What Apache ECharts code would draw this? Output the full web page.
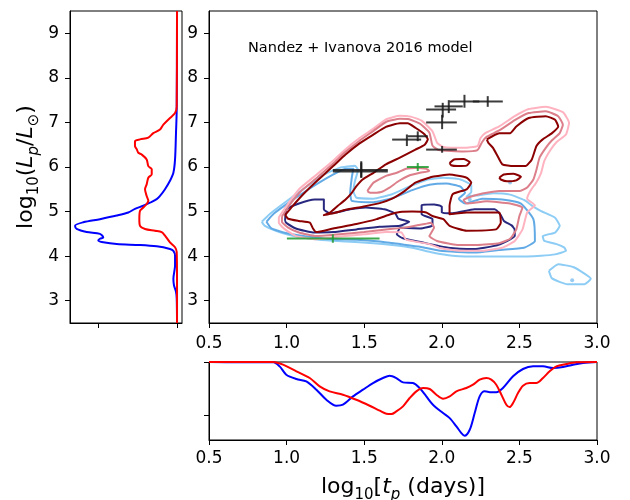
<!DOCTYPE html>
<html><head><meta charset="utf-8">
<script src="https://cdn.jsdelivr.net/npm/echarts@6/dist/echarts.min.js"></script>
<style>html,body{margin:0;padding:0;background:#fff}#c{width:630px;height:500px}</style>
</head><body><div id="c"></div>
<script>
// ---- tick values ----
const lumTicks = [3, 4, 5, 6, 7, 8, 9];
const timeTicks = [0.5, 1.0, 1.5, 2.0, 2.5, 3.0];

// ---- marginal density of log L (pairs: [density, logL]) ----
const lumDensityBlue = [[0,9.5],[0.004,7.29],[0.013,6.76],[0.025,6.17],[0.046,5.87],[0.089,5.69],[0.152,5.50],[0.215,5.35],[0.257,5.28],[0.342,5.20],[0.426,5.13],[0.532,5.06],[0.616,4.98],[0.763,4.91],[0.975,4.83],[1.186,4.76],[1.29,4.68],[1.27,4.61],[1.143,4.54],[0.975,4.50],[0.933,4.42],[0.975,4.39],[0.996,4.35],[0.933,4.31],[0.763,4.27],[0.468,4.25],[0.257,4.22],[0.089,4.16],[0.046,4.12],[0.025,4.01],[0.025,3.79],[0.046,3.49],[0.038,3.34],[0.013,3.20],[0.004,3.05],[0,2.5]];
const lumDensityRed = [[0,9.5],[0.004,7.35],[0.025,7.21],[0.089,7.10],[0.173,6.95],[0.215,6.84],[0.300,6.76],[0.363,6.66],[0.468,6.62],[0.532,6.58],[0.532,6.47],[0.51,6.40],[0.49,6.32],[0.447,6.28],[0.384,6.17],[0.363,6.02],[0.32,5.95],[0.32,5.84],[0.363,5.76],[0.384,5.61],[0.405,5.50],[0.384,5.35],[0.363,5.24],[0.384,5.17],[0.426,5.09],[0.468,5.02],[0.477,4.83],[0.468,4.68],[0.405,4.61],[0.278,4.57],[0.194,4.54],[0.152,4.46],[0.089,4.31],[0.025,4.20],[0.004,4.09],[0,3.5],[0,2.5]];

// ---- marginal density of log t (pairs: [logt, density]) ----
const timeDensityBlue = [[0.5,0],[0.698,0.006],[0.912,0],[0.955,0.082],[0.998,0.239],[1.063,0.321],[1.127,0.365],[1.192,0.522],[1.256,0.711],[1.320,0.824],[1.363,0.805],[1.428,0.648],[1.492,0.522],[1.557,0.396],[1.621,0.302],[1.664,0.258],[1.707,0.302],[1.750,0.384],[1.814,0.396],[1.857,0.491],[1.900,0.648],[1.943,0.805],[2.008,0.962],[2.051,1.057],[2.094,1.214],[2.126,1.340],[2.147,1.390],[2.180,1.277],[2.212,0.962],[2.244,0.648],[2.276,0.553],[2.319,0.572],[2.351,0.572],[2.394,0.491],[2.459,0.270],[2.523,0.132],[2.588,0.082],[2.652,0.082],[2.717,0.113],[2.781,0.094],[2.845,0.05],[2.910,0.019],[3.0,0]];
const timeDensityRed = [[0.5,0],[0.912,0],[0.977,0.05],[1.063,0.176],[1.149,0.302],[1.213,0.459],[1.277,0.553],[1.363,0.616],[1.449,0.711],[1.535,0.824],[1.600,0.918],[1.643,0.975],[1.675,0.981],[1.707,0.931],[1.750,0.836],[1.793,0.679],[1.836,0.553],[1.879,0.491],[1.922,0.509],[1.965,0.616],[2.008,0.692],[2.051,0.648],[2.094,0.553],[2.158,0.491],[2.201,0.428],[2.244,0.333],[2.287,0.302],[2.319,0.333],[2.351,0.428],[2.384,0.616],[2.416,0.805],[2.437,0.849],[2.459,0.774],[2.491,0.585],[2.523,0.447],[2.566,0.396],[2.609,0.396],[2.652,0.302],[2.695,0.176],[2.738,0.082],[2.802,0.038],[2.867,0.006],[3.0,0]];

// ---- observed-sample contours (blue family) ----
const blueOuter = [[0.84,4.77],[0.89,4.94],[0.98,5.18],[1.11,5.51],[1.23,5.81],[1.34,5.98],[1.44,6.03],[1.46,5.93],[1.44,5.68],[1.43,5.46],[1.45,5.31],[1.56,5.29],[1.68,5.39],[1.79,5.56],[1.90,5.71],[2.01,5.76],[2.12,5.72],[2.19,5.59],[2.19,5.44],[2.16,5.34],[2.22,5.36],[2.33,5.41],[2.44,5.38],[2.53,5.26],[2.59,5.11],[2.64,5.01],[2.73,4.86],[2.76,4.68],[2.73,4.53],[2.65,4.45],[2.66,4.34],[2.74,4.27],[2.79,4.19],[2.80,4.12],[2.73,4.04],[2.64,4.01],[2.48,3.99],[2.26,3.99],[2.07,4.01],[1.94,4.08],[1.81,4.19],[1.68,4.25],[1.56,4.29],[1.38,4.33],[1.21,4.37],[1.06,4.44],[0.93,4.57],[0.86,4.68]];
const blueIsland = [[2.69,3.67],[2.75,3.82],[2.85,3.75],[2.96,3.49],[2.92,3.37],[2.81,3.37],[2.71,3.50]];
const blueSpecks = [[2.84,3.46],[2.18,5.27],[2.44,5.65]];
const blueMid = [[0.87,4.77],[0.92,4.96],[1.03,5.24],[1.16,5.54],[1.29,5.81],[1.38,5.96],[1.43,5.96],[1.42,5.76],[1.41,5.42],[1.42,5.24],[1.56,5.21],[1.68,5.30],[1.81,5.48],[1.92,5.60],[2.03,5.63],[2.12,5.56],[2.15,5.42],[2.11,5.29],[2.15,5.18],[2.26,5.29],[2.39,5.27],[2.51,5.18],[2.59,4.83],[2.60,4.34],[2.53,4.19],[2.37,4.14],[2.21,4.08],[1.99,4.12],[1.86,4.21],[1.73,4.27],[1.60,4.33],[1.45,4.37],[1.30,4.38],[1.13,4.44],[0.98,4.53],[0.90,4.63]];
const blueInnerA = [[0.99,4.79],[1.00,5.05],[1.08,5.18],[1.18,5.27],[1.24,5.27],[1.24,5.05],[1.28,4.96],[1.41,5.05],[1.51,5.09],[1.63,5.05],[1.70,4.96],[1.72,4.84],[1.79,4.77],[1.73,4.68],[1.60,4.66],[1.45,4.60],[1.30,4.54],[1.17,4.53],[1.06,4.62],[1.00,4.74]];
const blueInnerB = [[1.73,4.64],[1.71,4.49],[1.75,4.40],[1.87,4.31],[2.04,4.19],[2.21,4.16],[2.34,4.23],[2.42,4.34],[2.47,4.45],[2.47,4.59],[2.45,4.69],[2.40,4.79],[2.38,4.92],[2.34,5.05],[2.21,5.05],[2.07,4.96],[2.00,4.98],[2.00,5.11],[1.95,5.16],[1.87,5.15],[1.87,4.94],[1.94,4.83],[1.94,4.69],[1.86,4.62]];

// ---- model contours (red family) ----
const redOuter = [[0.95,4.87],[1.00,5.13],[1.08,5.50],[1.19,5.82],[1.30,6.14],[1.38,6.40],[1.47,6.65],[1.56,6.86],[1.64,7.07],[1.73,7.15],[1.80,7.13],[1.87,7.04],[1.94,6.80],[1.97,6.54],[2.01,6.45],[2.14,6.43],[2.23,6.47],[2.25,6.65],[2.28,6.76],[2.37,6.91],[2.47,7.14],[2.56,7.30],[2.67,7.35],[2.78,7.23],[2.82,6.99],[2.80,6.73],[2.74,6.56],[2.70,6.38],[2.66,6.13],[2.64,5.87],[2.61,5.66],[2.57,5.46],[2.55,5.29],[2.60,5.14],[2.55,4.98],[2.52,4.60],[2.47,4.34],[2.39,4.19],[2.26,4.12],[2.14,4.12],[2.00,4.17],[1.92,4.27],[1.77,4.37],[1.74,4.53],[1.64,4.54],[1.50,4.49],[1.34,4.44],[1.19,4.38],[1.06,4.45],[0.99,4.60],[0.95,4.75]];
const redMid = [[0.97,4.89],[1.02,5.15],[1.09,5.45],[1.19,5.74],[1.30,6.08],[1.38,6.34],[1.47,6.59],[1.56,6.81],[1.64,7.01],[1.73,7.08],[1.79,7.07],[1.86,6.97],[1.92,6.77],[1.94,6.48],[1.98,6.38],[2.14,6.35],[2.23,6.38],[2.26,6.56],[2.29,6.68],[2.37,6.82],[2.47,7.05],[2.56,7.21],[2.67,7.25],[2.75,7.14],[2.78,6.95],[2.76,6.76],[2.71,6.60],[2.67,6.43],[2.63,6.21],[2.61,5.94],[2.59,5.72],[2.55,5.54],[2.50,5.46],[2.37,5.46],[2.29,5.42],[2.20,5.35],[2.14,5.26],[2.16,5.18],[2.29,5.23],[2.44,5.18],[2.52,5.09],[2.50,4.90],[2.48,4.60],[2.44,4.39],[2.37,4.29],[2.23,4.25],[2.10,4.25],[1.97,4.34],[1.92,4.45],[1.95,4.64],[1.93,4.75],[1.89,4.72],[1.76,4.64],[1.64,4.60],[1.50,4.54],[1.34,4.49],[1.19,4.45],[1.08,4.53],[1.01,4.64],[0.97,4.77]];
const redMidHole = [[1.52,5.46],[1.56,5.65],[1.64,5.80],[1.71,5.87],[1.77,5.96],[1.83,5.98],[1.90,5.96],[1.92,5.91],[1.86,5.87],[1.79,5.81],[1.72,5.68],[1.66,5.53],[1.61,5.44],[1.54,5.42]];
const redInner = [[0.99,4.92],[1.03,5.09],[1.11,5.40],[1.19,5.67],[1.30,6.02],[1.38,6.28],[1.47,6.53],[1.56,6.73],[1.64,6.90],[1.73,6.98],[1.78,6.98],[1.83,6.88],[1.89,6.73],[1.91,6.62],[1.89,6.50],[1.83,6.39],[1.73,6.21],[1.64,6.06],[1.56,5.87],[1.49,5.72],[1.45,5.57],[1.42,5.42],[1.38,5.27],[1.33,5.13],[1.28,4.98],[1.24,4.92],[1.30,4.96],[1.38,5.04],[1.49,5.11],[1.60,5.19],[1.68,5.29],[1.76,5.46],[1.83,5.65],[1.94,5.78],[2.05,5.83],[2.16,5.76],[2.19,5.65],[2.16,5.50],[2.07,5.39],[2.05,5.13],[2.05,4.94],[2.16,4.98],[2.37,4.98],[2.38,4.75],[2.35,4.60],[2.16,4.57],[2.05,4.68],[2.01,4.83],[1.94,4.90],[1.90,4.98],[1.81,5.00],[1.73,4.99],[1.67,4.94],[1.58,4.83],[1.45,4.72],[1.30,4.62],[1.19,4.54],[1.17,4.62],[1.15,4.75],[1.08,4.79],[1.01,4.84]];
const redInnerLobe = [[2.29,6.62],[2.37,6.76],[2.44,6.76],[2.48,6.91],[2.56,7.10],[2.67,7.14],[2.73,7.06],[2.75,6.91],[2.71,6.76],[2.65,6.62],[2.61,6.47],[2.58,6.17],[2.54,6.02],[2.46,6.02],[2.39,6.06],[2.36,6.24],[2.33,6.43],[2.30,6.54]];
const redInnerDotA = [[2.05,6.09],[2.08,6.17],[2.14,6.18],[2.18,6.11],[2.16,6.03],[2.10,6.02],[2.06,6.04]];
const redInnerDotB = [[2.37,5.76],[2.40,5.83],[2.46,5.85],[2.51,5.78],[2.48,5.70],[2.42,5.68],[2.38,5.72]];

// ---- events with errors: [logt, logL, logt_lo, logt_hi, logL_lo, logL_hi] ----
const eventsBlack = [[1.481,5.93,1.298,1.652,5.76,6.13],[1.481,5.90,1.298,1.652,5.76,6.10],[1.775,6.615,1.680,1.867,6.47,6.73],[1.845,6.69,1.78,1.91,6.58,6.80],[2.002,7.00,1.899,2.097,6.85,7.17],[2.006,7.29,1.899,2.092,7.11,7.44],[2.045,7.36,1.953,2.135,7.21,7.50],[2.146,7.47,2.049,2.242,7.33,7.62],[2.296,7.47,2.200,2.393,7.35,7.59],[2.002,6.39,1.899,2.097,6.32,6.47]];
const eventsGreen = [[1.298,4.395,1.002,1.599,4.30,4.49],[1.845,6.00,1.775,1.916,5.91,6.09]];

const FONT = 'DejaVu Sans';
const closed = arr => arr.concat([arr[0]]);

function contour(data, color, z) {
  return {
    type: 'line', xAxisIndex: 1, yAxisIndex: 1, data: closed(data),
    symbol: 'none', smooth: 0.15, silent: true, z: z,
    lineStyle: { color: color, width: 2, join: 'round' }
  };
}

function errorBars(data, color, z) {
  return {
    type: 'custom', xAxisIndex: 1, yAxisIndex: 1, data: data, z: z, silent: true,
    encode: { x: 0, y: 1 },
    renderItem: function (params, api) {
      const y = api.value(1), x = api.value(0);
      const a = api.coord([api.value(2), y]), b = api.coord([api.value(3), y]);
      const c = api.coord([x, api.value(4)]), d = api.coord([x, api.value(5)]);
      const st = { stroke: color, lineWidth: 2, opacity: 0.85 };
      return { type: 'group', children: [
        { type: 'line', shape: { x1: a[0], y1: a[1], x2: b[0], y2: b[1] }, style: st },
        { type: 'line', shape: { x1: c[0], y1: c[1], x2: d[0], y2: d[1] }, style: st }
      ] };
    }
  };
}

const axisLineStyle = { show: true, onZero: false, lineStyle: { color: '#000', width: 1 } };
const labelStyle = { color: '#000', fontFamily: FONT, fontSize: 17 };
const subRich = {
  n: { fontFamily: FONT, fontSize: 22, color: '#000', lineHeight: 32, verticalAlign: 'middle' },
  i: { fontFamily: FONT, fontSize: 22, color: '#000', fontStyle: 'italic', lineHeight: 32, verticalAlign: 'middle' },
  s: { fontFamily: FONT, fontSize: 15, color: '#000', lineHeight: 15, verticalAlign: 'bottom' },
  si: { fontFamily: FONT, fontSize: 15, color: '#000', fontStyle: 'italic', lineHeight: 15, verticalAlign: 'bottom' }
};

const chart = echarts.init(document.getElementById('c'), null, { renderer: 'canvas' });
chart.setOption({
  animation: false,
  backgroundColor: '#fff',
  grid: [
    { left: 70, top: 11, width: 112, height: 312, show: true, borderColor: '#000', borderWidth: 1, outerBoundsMode: 'none' },
    { left: 209, top: 11, width: 388, height: 312, show: true, borderColor: '#000', borderWidth: 1, outerBoundsMode: 'none' },
    { left: 209, top: 362, width: 388, height: 78, show: true, borderColor: '#000', borderWidth: 1, outerBoundsMode: 'none' }
  ],
  xAxis: [
    { gridIndex: 0, type: 'value', inverse: true, min: -0.063, max: 1.354,
      axisLine: axisLineStyle, splitLine: { show: false },
      axisTick: { show: true, customValues: [0, 1], length: 5, lineStyle: { color: '#000' } },
      axisLabel: { show: false } },
    { gridIndex: 1, type: 'value', min: 0.5, max: 3.0, interval: 0.5,
      axisLine: axisLineStyle, splitLine: { show: false },
      axisTick: { show: true, length: 5, lineStyle: { color: '#000' } },
      axisLabel: Object.assign({ margin: 12, customValues: timeTicks, formatter: v => v.toFixed(1) }, labelStyle) },
    { gridIndex: 2, type: 'value', min: 0.5, max: 3.0, interval: 0.5,
      axisLine: axisLineStyle, splitLine: { show: false },
      axisTick: { show: true, length: 5, lineStyle: { color: '#000' } },
      axisLabel: Object.assign({ margin: 10, customValues: timeTicks, formatter: v => v.toFixed(1) }, labelStyle),
      name: '{n|log}{s|10}{n|[}{i|t}{si|p}{n| (days)]}', nameLocation: 'middle', nameGap: 31,
      nameTextStyle: { fontFamily: FONT, fontSize: 22, color: '#000', rich: subRich } }
  ],
  yAxis: [
    { gridIndex: 0, type: 'value', min: 2.5, max: 9.5,
      axisLine: axisLineStyle, splitLine: { show: false },
      axisTick: { show: true, customValues: lumTicks, length: 5, lineStyle: { color: '#000' } },
      axisLabel: Object.assign({ margin: 11, customValues: lumTicks, formatter: v => String(v) }, labelStyle),
      name: '{n|log}{s|10}{n|(}{i|L}{si|p}{n|/}{i|L}{s|⊙}{n|)}', nameLocation: 'middle', nameGap: 28,
      nameTextStyle: { fontFamily: FONT, fontSize: 22, color: '#000', rich: subRich } },
    { gridIndex: 1, type: 'value', min: 2.5, max: 9.5,
      axisLine: axisLineStyle, splitLine: { show: false },
      axisTick: { show: true, customValues: lumTicks, length: 5, lineStyle: { color: '#000' } },
      axisLabel: Object.assign({ margin: 11, customValues: lumTicks, formatter: v => String(v) }, labelStyle) },
    { gridIndex: 2, type: 'value', inverse: true, min: 0, max: 1.47,
      axisLine: axisLineStyle, splitLine: { show: false },
      axisTick: { show: true, customValues: [0, 1], length: 5, lineStyle: { color: '#000' } },
      axisLabel: { show: false } }
  ],
  graphic: [
    { type: 'text', left: 248, top: 41, silent: true,
      style: { text: 'Nandez + Ivanova 2016 model', fontFamily: FONT, fontSize: 14.5, fill: '#000' } }
  ],
  series: [
    // luminosity marginal
    { type: 'line', xAxisIndex: 0, yAxisIndex: 0, data: lumDensityBlue, symbol: 'none', smooth: 0.3,
      lineStyle: { color: '#0000ff', width: 2 }, z: 2 },
    { type: 'line', xAxisIndex: 0, yAxisIndex: 0, data: lumDensityRed, symbol: 'none', smooth: 0.3,
      lineStyle: { color: '#ff0000', width: 2 }, z: 3 },
    // joint density contours
    contour(blueOuter, '#8dcdf5', 2),
    contour(blueIsland, '#8dcdf5', 2),
    contour(blueMid, '#62aae6', 2),
    contour(blueInnerA, '#28287f', 2),
    contour(blueInnerB, '#28287f', 2),
    { type: 'scatter', xAxisIndex: 1, yAxisIndex: 1, data: blueSpecks, symbolSize: 4,
      itemStyle: { color: '#7fbff0' }, silent: true, z: 2 },
    contour(redOuter, '#ffb3c0', 3),
    contour(redMid, '#dc7f8a', 3),
    contour(redMidHole, '#dc7f8a', 3),
    contour(redInner, '#8b0000', 4),
    contour(redInnerLobe, '#8b0000', 4),
    contour(redInnerDotA, '#8b0000', 4),
    contour(redInnerDotB, '#8b0000', 4),
    errorBars(eventsGreen, '#1f9a2f', 6),
    errorBars(eventsBlack, '#1a1a1a', 6),
    // timescale marginal
    { type: 'line', xAxisIndex: 2, yAxisIndex: 2, data: timeDensityBlue, symbol: 'none', smooth: 0.3,
      lineStyle: { color: '#0000ff', width: 2 }, z: 2 },
    { type: 'line', xAxisIndex: 2, yAxisIndex: 2, data: timeDensityRed, symbol: 'none', smooth: 0.3,
      lineStyle: { color: '#ff0000', width: 2 }, z: 3 }
  ]
});
</script></body></html>
